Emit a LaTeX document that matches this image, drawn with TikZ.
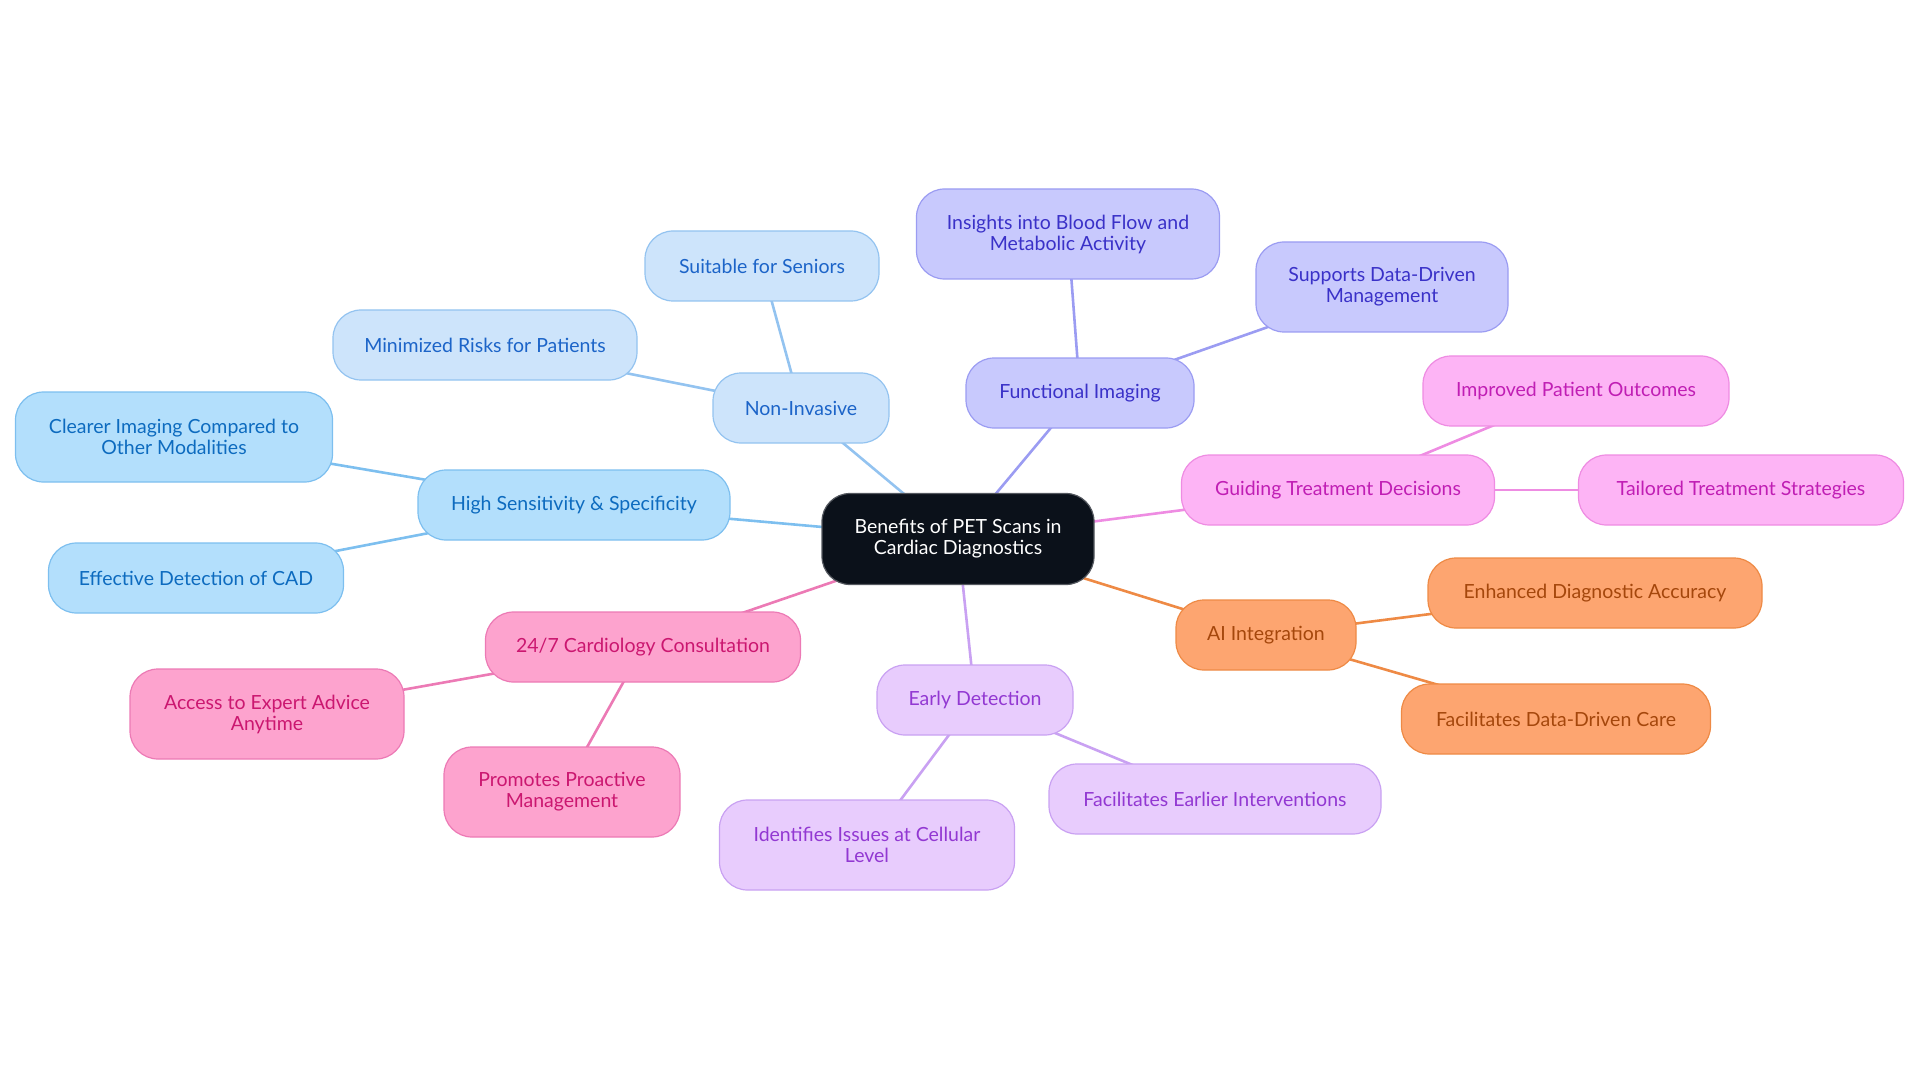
\documentclass[tikz,border=0pt]{standalone}
\usepackage{fontspec}
\setmainfont{Lato}
\usepackage{tikz}
\usetikzlibrary{positioning, backgrounds}
\definecolor{CoreInk}{HTML}{0B111A}
\definecolor{SensFill}{HTML}{B3DFFC}
\definecolor{SensLine}{HTML}{7DBFEF}
\definecolor{SensText}{HTML}{0D6BBF}
\definecolor{InvFill}{HTML}{CDE4FB}
\definecolor{InvLine}{HTML}{93C3F0}
\definecolor{InvText}{HTML}{1C64C8}
\definecolor{FuncFill}{HTML}{C8C9FD}
\definecolor{FuncLine}{HTML}{9B9CF2}
\definecolor{FuncText}{HTML}{3A31C8}
\definecolor{GuideFill}{HTML}{FDB4F5}
\definecolor{GuideLine}{HTML}{EE8CE2}
\definecolor{GuideText}{HTML}{C01EB4}
\definecolor{AIFill}{HTML}{FDA570}
\definecolor{AILine}{HTML}{EE8A45}
\definecolor{AIText}{HTML}{A5470C}
\definecolor{EarlyFill}{HTML}{E8CCFD}
\definecolor{EarlyLine}{HTML}{C9A1F2}
\definecolor{EarlyText}{HTML}{9238D2}
\definecolor{ConsFill}{HTML}{FDA3CE}
\definecolor{ConsLine}{HTML}{EC7AB5}
\definecolor{ConsText}{HTML}{CB1770}

\begin{document}
\begin{tikzpicture}[
        x=1pt, y=-1pt,
        topic/.style={draw, rounded corners=28pt, line width=1.2pt, align=center, inner sep=0pt,
            minimum height=70pt, font=\fontsize{19.5}{21}\selectfont},
        tall/.style={minimum height=90pt},
        core/.style={topic, fill=CoreInk, draw=CoreInk!70, text=white, minimum height=91pt},
        sensbox/.style={topic, fill=SensFill, draw=SensLine, text=SensText},
        invbox/.style={topic, fill=InvFill, draw=InvLine, text=InvText},
        funcbox/.style={topic, fill=FuncFill, draw=FuncLine, text=FuncText},
        guidebox/.style={topic, fill=GuideFill, draw=GuideLine, text=GuideText},
        aibox/.style={topic, fill=AIFill, draw=AILine, text=AIText},
        earlybox/.style={topic, fill=EarlyFill, draw=EarlyLine, text=EarlyText},
        consbox/.style={topic, fill=ConsFill, draw=ConsLine, text=ConsText},
        link/.style={line width=2.6pt}
    ]
    \useasboundingbox (0,0) rectangle (1920,1083);

    % Centrum
    \node[core, minimum width=272pt] (core) at (958,539) {Benefits of PET Scans in\\Cardiac Diagnostics};

    % Gałęzie główne
    \node[sensbox, minimum width=312pt] (sens) at (574,505) {High Sensitivity \& Specificity};
    \node[invbox, minimum width=176pt] (inv) at (801,408) {Non-Invasive};
    \node[funcbox, minimum width=228pt] (func) at (1080,393) {Functional Imaging};
    \node[guidebox, minimum width=313pt] (guide) at (1338,490) {Guiding Treatment Decisions};
    \node[aibox, minimum width=180pt] (ai) at (1266,635) {AI Integration};
    \node[earlybox, minimum width=196pt] (early) at (975,700) {Early Detection};
    \node[consbox, minimum width=315pt] (cons) at (643,647) {24/7 Cardiology Consultation};

    % Liście
    \node[sensbox, tall, minimum width=317pt] (clear) at (174,437) {Clearer Imaging Compared to\\Other Modalities};
    \node[sensbox, minimum width=295pt] (cad) at (196,578) {Effective Detection of CAD};
    \node[invbox, minimum width=234pt] (senior) at (762,266) {Suitable for Seniors};
    \node[invbox, minimum width=304pt] (risk) at (485,345) {Minimized Risks for Patients};
    \node[funcbox, tall, minimum width=303pt] (flow) at (1068,234) {Insights into Blood Flow and\\Metabolic Activity};
    \node[funcbox, tall, minimum width=252pt] (data) at (1382,287) {Supports Data-Driven\\Management};
    \node[guidebox, minimum width=306pt] (outcome) at (1576,391) {Improved Patient Outcomes};
    \node[guidebox, minimum width=325pt] (tailor) at (1741,490) {Tailored Treatment Strategies};
    \node[aibox, minimum width=334pt] (accuracy) at (1595,593) {Enhanced Diagnostic Accuracy};
    \node[aibox, minimum width=309pt] (care) at (1556,719) {Facilitates Data-Driven Care};
    \node[earlybox, tall, minimum width=295pt] (cell) at (867,845) {Identifies Issues at Cellular\\Level};
    \node[earlybox, minimum width=332pt] (interv) at (1215,799) {Facilitates Earlier Interventions};
    \node[consbox, tall, minimum width=274pt] (advice) at (267,714) {Access to Expert Advice\\Anytime};
    \node[consbox, tall, minimum width=236pt] (proact) at (562,792) {Promotes Proactive\\Management};

    % Połączenia
    \begin{scope}[on background layer]
        \draw[link, SensLine] (core.center) -- (sens.center);
        \draw[link, SensLine] (sens.center) -- (clear.center);
        \draw[link, SensLine] (sens.center) -- (cad.center);
        \draw[link, InvLine] (core.center) -- (inv.center);
        \draw[link, InvLine] (inv.center) -- (senior.center);
        \draw[link, InvLine] (inv.center) -- (risk.center);
        \draw[link, FuncLine] (core.center) -- (func.center);
        \draw[link, FuncLine] (func.center) -- (flow.center);
        \draw[link, FuncLine] (func.center) -- (data.center);
        \draw[link, GuideLine] (core.center) -- (guide.center);
        \draw[link, GuideLine] (guide.center) -- (outcome.center);
        \draw[link, GuideLine] (guide.center) -- (tailor.center);
        \draw[link, AILine] (core.center) -- (ai.center);
        \draw[link, AILine] (ai.center) -- (accuracy.center);
        \draw[link, AILine] (ai.center) -- (care.center);
        \draw[link, EarlyLine] (core.center) -- (early.center);
        \draw[link, EarlyLine] (early.center) -- (cell.center);
        \draw[link, EarlyLine] (early.center) -- (interv.center);
        \draw[link, ConsLine] (core.center) -- (cons.center);
        \draw[link, ConsLine] (cons.center) -- (advice.center);
        \draw[link, ConsLine] (cons.center) -- (proact.center);
    \end{scope}

\end{tikzpicture}
\end{document}
